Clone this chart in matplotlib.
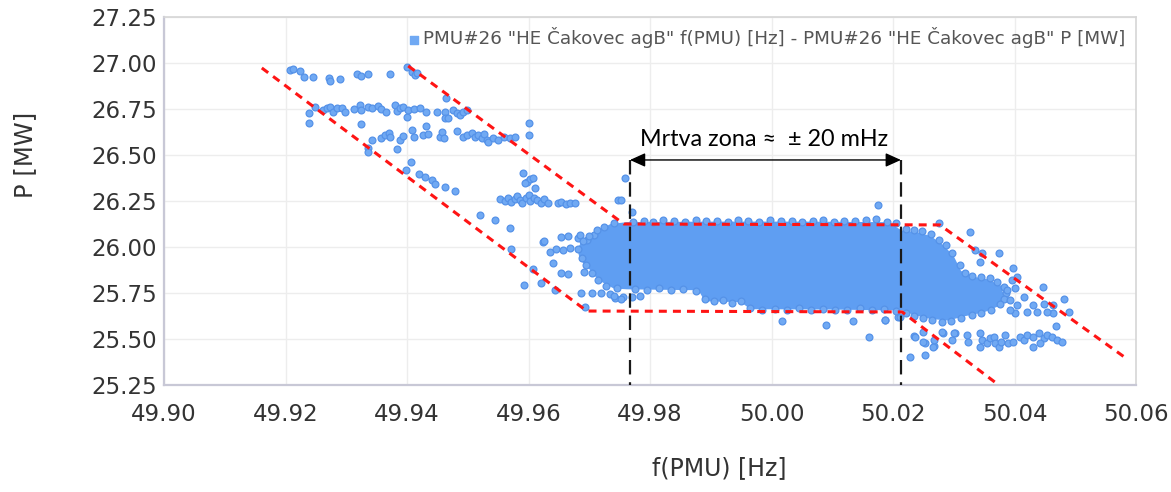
import matplotlib
matplotlib.use("Agg")
import matplotlib.pyplot as plt
import numpy as np

plt.rcParams["font.family"] = ["DejaVu Sans"]

# ---------------- data ----------------
x_ticks = [49.90, 49.92, 49.94, 49.96, 49.98, 50.00, 50.02, 50.04, 50.06]
x_tick_labels = ["49.90", "49.92", "49.94", "49.96", "49.98", "50.00", "50.02", "50.04", "50.06"]
y_ticks = [25.25, 25.50, 25.75, 26.00, 26.25, 26.50, 26.75, 27.00, 27.25]
y_tick_labels = ["25.25", "25.50", "25.75", "26.00", "26.25", "26.50", "26.75", "27.00", "27.25"]

# top row around 26.95 MW
top_f = [49.9207, 49.9212, 49.9224, 49.9230, 49.9245, 49.9272, 49.9273, 49.9290, 49.9318,
         49.9325, 49.9336, 49.9372, 49.9400, 49.9408, 49.9413, 49.9416]
top_p = [26.962, 26.967, 26.957, 26.926, 26.926, 26.918, 26.902, 26.913, 26.940,
         26.930, 26.940, 26.940, 26.978, 26.953, 26.935, 26.945]

# row around 26.75 MW
row75_f = [49.9238, 49.9239, 49.9249, 49.9262, 49.9268, 49.9273, 49.9279, 49.9284, 49.9293,
           49.9298, 49.9312, 49.9323, 49.9325, 49.9336, 49.9342, 49.9353, 49.9358, 49.9365,
           49.9380, 49.9383, 49.9389, 49.9394, 49.9400, 49.9402, 49.9411, 49.9421, 49.9432,
           49.9449, 49.9463, 49.9463, 49.9465, 49.9476, 49.9482, 49.9487, 49.9493, 49.9498,
           49.9324, 49.9468]
row75_p = [26.726, 26.672, 26.763, 26.745, 26.754, 26.763, 26.735, 26.757, 26.754,
           26.732, 26.750, 26.772, 26.745, 26.763, 26.754, 26.768, 26.750, 26.735,
           26.772, 26.739, 26.754, 26.763, 26.708, 26.745, 26.750, 26.757, 26.735,
           26.732, 26.732, 26.703, 26.808, 26.745, 26.726, 26.717, 26.735, 26.745,
           26.668, 26.699]

# row around 26.60 MW
row60_f = [49.9335, 49.9336, 49.9342, 49.9358, 49.9364, 49.9370, 49.9372, 49.9384, 49.9389,
           49.9394, 49.9408, 49.9411, 49.9427, 49.9431, 49.9435, 49.9454, 49.9457, 49.9461,
           49.9482, 49.9493, 49.9498, 49.9507, 49.9512, 49.9517, 49.9523, 49.9526, 49.9531,
           49.9534, 49.9542, 49.9550, 49.9559, 49.9570, 49.9578, 49.9600, 49.9600]
row60_p = [26.536, 26.514, 26.581, 26.594, 26.609, 26.618, 26.600, 26.533, 26.581,
           26.605, 26.636, 26.600, 26.609, 26.659, 26.612, 26.600, 26.627, 26.591,
           26.630, 26.600, 26.609, 26.618, 26.600, 26.609, 26.591, 26.612, 26.581,
           26.569, 26.591, 26.581, 26.600, 26.594, 26.600, 26.609, 26.672]

# diagonal trail 26.46 -> 26.30 MW
trail_f = [49.9406, 49.9399, 49.9419, 49.9430, 49.9441, 49.9446, 49.9463, 49.9479]
trail_p = [26.464, 26.418, 26.397, 26.382, 26.364, 26.341, 26.328, 26.304]

# shelf around 26.25 MW
shelf_f = [49.9553, 49.9561, 49.9567, 49.9572, 49.9578, 49.9581, 49.9586, 49.9590, 49.9596,
           49.9601, 49.9602, 49.9609, 49.9614, 49.9620, 49.9625, 49.9632, 49.9649, 49.9654,
           49.9662, 49.9668, 49.9676, 49.9591, 49.9597, 49.9602, 49.9608, 49.9594, 49.9611,
           49.9748, 49.9753, 49.9759, 49.9770]
shelf_p = [26.259, 26.252, 26.264, 26.246, 26.259, 26.277, 26.255, 26.241, 26.264,
           26.283, 26.252, 26.264, 26.255, 26.241, 26.259, 26.237, 26.237, 26.246,
           26.234, 26.241, 26.237, 26.400, 26.355, 26.368, 26.373, 26.346, 26.319,
           26.255, 26.255, 26.373, 26.192]

# scattered points left of the dead band
left_f = [49.9520, 49.9545, 49.9569, 49.9572, 49.9592, 49.9607, 49.9621, 49.9624, 49.9635,
          49.9640, 49.9643, 49.9646, 49.9654, 49.9654, 49.9657, 49.9665, 49.9665, 49.9668,
          49.9682, 49.9685, 49.9687, 49.9691, 49.9693, 49.9696, 49.9704, 49.9707, 49.9719,
          49.9734, 49.9742, 49.9756, 49.9770, 49.9783, 49.9625, 49.9740, 49.9752]
left_p = [26.174, 26.147, 26.101, 25.987, 25.793, 25.879, 25.806, 26.029, 25.975,
          25.911, 25.766, 25.987, 26.052, 25.857, 25.984, 26.059, 25.853, 25.993,
          26.047, 26.065, 25.752, 25.866, 25.676, 26.038, 25.752, 26.065, 25.752,
          25.744, 25.721, 25.730, 25.730, 25.733, 26.030, 25.735, 25.715]

# outliers inside the dead band
mid_f = [50.0017, 50.0089, 50.0134, 50.0161, 50.0187, 50.0209, 50.0176]
mid_p = [25.600, 25.576, 25.600, 25.510, 25.603, 25.618, 26.228]

# edge of the dense cloud (upper and lower rims)
rim_top_f = [49.9772, 49.9790, 49.9805, 49.9822, 49.9840, 49.9858, 49.9875, 49.9893, 49.9910,
             49.9928, 49.9945, 49.9962, 49.9980, 49.9998, 50.0015, 50.0033, 50.0050, 50.0068,
             50.0085, 50.0103, 50.0120, 50.0138, 50.0155, 50.0172, 50.0190, 50.0205]
rim_top_p = [26.135, 26.142, 26.138, 26.146, 26.140, 26.136, 26.148, 26.139, 26.143,
             26.137, 26.145, 26.141, 26.135, 26.147, 26.139, 26.144, 26.136, 26.142,
             26.149, 26.138, 26.143, 26.140, 26.146, 26.152, 26.137, 26.130]
rim_bot_f = [49.9775, 49.9795, 49.9815, 49.9835, 49.9855, 49.9875, 49.9890, 49.9905, 49.9920,
             49.9935, 49.9950, 49.9965, 49.9985, 50.0005, 50.0025, 50.0045, 50.0065, 50.0085,
             50.0105, 50.0125, 50.0145, 50.0165, 50.0185, 50.0205]
rim_bot_p = [25.770, 25.765, 25.775, 25.768, 25.772, 25.760, 25.715, 25.705, 25.712,
             25.698, 25.704, 25.668, 25.660, 25.664, 25.658, 25.666, 25.657, 25.662,
             25.655, 25.660, 25.668, 25.656, 25.661, 25.652]
rim_left_f = [49.9682, 49.9690, 49.9700, 49.9712, 49.9725, 49.9740, 49.9688, 49.9695,
              49.9705, 49.9715, 49.9728, 49.9745]
rim_left_p = [25.990, 26.030, 26.060, 26.090, 26.110, 26.130, 25.940, 25.900,
              25.860, 25.820, 25.790, 25.775]
rim_right_f = [50.0222, 50.0235, 50.0248, 50.0262, 50.0275, 50.0287, 50.0297, 50.0310,
               50.0318, 50.0330, 50.0345, 50.0360, 50.0372, 50.0382, 50.0386, 50.0383,
               50.0376, 50.0362, 50.0345, 50.0330, 50.0312, 50.0295, 50.0280, 50.0265,
               50.0250, 50.0235, 50.0222]
rim_right_p = [26.100, 26.095, 26.085, 26.070, 26.040, 26.010, 25.970, 25.900,
               25.860, 25.845, 25.835, 25.830, 25.810, 25.780, 25.750, 25.720,
               25.690, 25.660, 25.640, 25.630, 25.615, 25.600, 25.595, 25.605,
               25.615, 25.625, 25.640]

# scattered points right of the dead band
right_f = [50.0275, 50.0327, 50.0335, 50.0346, 50.0344, 50.0374, 50.0398, 50.0396, 50.0404,
           50.0388, 50.0401, 50.0393, 50.0404, 50.0415, 50.0447, 50.0431, 50.0448, 50.0464,
           50.0481, 50.0489, 50.0464, 50.0453, 50.0437, 50.0420, 50.0401, 50.0393, 50.0187,
           50.0212, 50.0234, 50.0250, 50.0253, 50.0267, 50.0267, 50.0283, 50.0302, 50.0228,
           50.0253, 50.0469, 50.0236, 50.0250, 50.0266, 50.0280, 50.0300]
right_p = [26.129, 26.080, 25.984, 25.966, 25.920, 25.969, 25.884, 25.820, 25.839,
           25.766, 25.775, 25.712, 25.685, 25.730, 25.784, 25.685, 25.690, 25.685,
           25.715, 25.648, 25.639, 25.648, 25.648, 25.648, 25.639, 25.657, 25.603,
           25.621, 25.516, 25.540, 25.476, 25.462, 25.494, 25.531, 25.531, 25.404,
           25.413, 25.571, 25.513, 25.485, 25.458, 25.540, 25.531]

# lower shelf around 25.50 MW
low_f = [50.0322, 50.0324, 50.0344, 50.0346, 50.0355, 50.0360, 50.0366, 50.0368, 50.0374,
         50.0377, 50.0385, 50.0390, 50.0398, 50.0409, 50.0415, 50.0420, 50.0431, 50.0440,
         50.0448, 50.0453, 50.0462, 50.0470, 50.0478, 50.0442, 50.0431, 50.0344, 50.0297]
low_p = [25.522, 25.485, 25.531, 25.494, 25.476, 25.503, 25.513, 25.476, 25.458,
         25.485, 25.522, 25.476, 25.485, 25.513, 25.494, 25.522, 25.513, 25.531,
         25.503, 25.522, 25.513, 25.494, 25.485, 25.476, 25.458, 25.458, 25.494]

# outline of the saturated (overplotted) core of the cloud
core_f = [49.9680, 49.9688, 49.9700, 49.9715, 49.9735, 49.9762, 49.9900, 50.0050, 50.0190,
          50.0215, 50.0240, 50.0262, 50.0283, 50.0300, 50.0312, 50.0330, 50.0355, 50.0378,
          50.0382, 50.0375, 50.0350, 50.0320, 50.0290, 50.0260, 50.0235, 50.0215, 50.0100,
          49.9965, 49.9950, 49.9890, 49.9880, 49.9762, 49.9740, 49.9715, 49.9700, 49.9685]
core_p = [25.990, 26.030, 26.060, 26.090, 26.125, 26.135, 26.138, 26.138, 26.135,
          26.090, 26.080, 26.060, 26.010, 25.950, 25.870, 25.840, 25.825, 25.790,
          25.740, 25.680, 25.645, 25.625, 25.600, 25.610, 25.630, 25.655, 25.660,
          25.662, 25.700, 25.705, 25.765, 25.770, 25.775, 25.820, 25.880, 25.930]

# red dashed envelope lines
env_low_f = [49.9161, 49.9696, 50.0215, 50.0374]
env_low_p = [26.973, 25.652, 25.647, 25.25]
env_up_f = [49.9402, 49.9757, 50.0277, 50.0583]
env_up_p = [26.984, 26.125, 26.120, 25.397]

# dead band limits
dead_f = [49.9767, 50.0213]
dead_arrow_p = 26.473
dead_text = "Mrtva zona \u2248  \u00b1 20 mHz"

legend_label = 'PMU#26 "HE \u010cakovec agB" f(PMU) [Hz] - PMU#26 "HE \u010cakovec agB" P [MW]'

# ---------------- drawing ----------------
W, H = 1171, 492
fig = plt.figure(figsize=(W / 100, H / 100), dpi=100)
ax = fig.add_axes([164 / W, 1 - 385 / H, (1136 - 164) / W, (385 - 17) / H])

pt_face = "#70a9f3"
pt_edge = "#5592e8"
core_col = "#5f9ef2"

ax.fill(core_f, core_p, color=core_col, lw=0, zorder=2)

all_f = np.concatenate([top_f, row75_f, row60_f, trail_f, shelf_f, left_f, mid_f,
                        rim_top_f, rim_bot_f, rim_left_f, rim_right_f, right_f, low_f])
all_p = np.concatenate([top_p, row75_p, row60_p, trail_p, shelf_p, left_p, mid_p,
                        rim_top_p, rim_bot_p, rim_left_p, rim_right_p, right_p, low_p])
ax.scatter(all_f, all_p, s=24, facecolor=pt_face, edgecolor=pt_edge, linewidths=0.9,
           zorder=3)

red_kw = dict(color="#ff1414", lw=2.2, linestyle=(0, (2.6, 2.0)), zorder=4,
              dash_capstyle="butt", solid_joinstyle="miter")
ax.plot(env_low_f, env_low_p, **red_kw)
ax.plot(env_up_f, env_up_p, **red_kw)

for xf in dead_f:
    ax.plot([xf, xf], [dead_arrow_p, 25.25], color="#1a1a1a", lw=1.6,
            linestyle=(0, (6.5, 3.5)), zorder=5, clip_on=False)

ax.annotate("", xy=(dead_f[0], dead_arrow_p), xytext=(dead_f[1], dead_arrow_p),
            arrowprops=dict(arrowstyle="<|-|>,head_length=0.62,head_width=0.28",
                            color="black", lw=1.0, shrinkA=0, shrinkB=0,
                            mutation_scale=15),
            zorder=6)
ax.text((dead_f[0] + dead_f[1]) / 2 - 0.0002, dead_arrow_p + 0.055, dead_text,
        ha="center", va="bottom", fontsize=16.8, color="black",
        family=["Lato", "DejaVu Sans"], zorder=6)

ax.set_xlim(49.90, 50.06)
ax.set_ylim(25.25, 27.25)
ax.set_xticks(x_ticks)
ax.set_xticklabels(x_tick_labels)
ax.set_yticks(y_ticks)
ax.set_yticklabels(y_tick_labels)
ax.tick_params(axis="both", length=0, labelsize=16.5, labelcolor="#333333")
ax.tick_params(axis="x", pad=13)
ax.tick_params(axis="y", pad=5)
ax.grid(True, color="#ededed", lw=1.0, zorder=0)
ax.set_axisbelow(True)
for side in ["left", "bottom"]:
    ax.spines[side].set_color("#c8c8d6")
    ax.spines[side].set_linewidth(1.6)
for side in ["top", "right"]:
    ax.spines[side].set_color("#d6d6d6")
    ax.spines[side].set_linewidth(1.2)

h = ax.scatter([], [], marker="s", s=40, color=pt_face, label=legend_label)
leg = fig.legend(handles=[h], loc="center right", bbox_to_anchor=(1125 / W, 1 - 38 / H),
                 frameon=False, fontsize=13.2, handletextpad=0.1, handlelength=0.7,
                 borderpad=0, borderaxespad=0)
for t in leg.get_texts():
    t.set_color("#555555")

fig.text(719 / W, 1 - 468 / H, "f(PMU) [Hz]", ha="center", va="center",
         fontsize=17, color="#333333")
fig.text(25 / W, 1 - 155 / H, "P [MW]", ha="center", va="center", rotation=90,
         fontsize=17.5, color="#333333")

fig.savefig("out.png", dpi=100)
